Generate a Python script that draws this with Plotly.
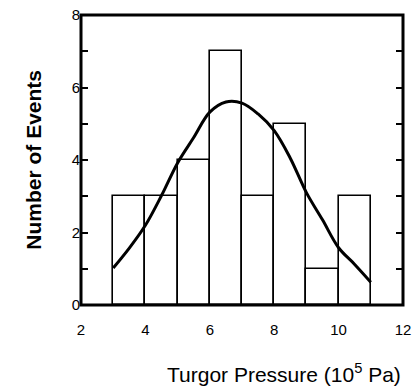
import plotly.graph_objects as go

# Histogram bins (left edge of each 1-unit bin) and counts
bin_left = [3, 4, 5, 6, 7, 8, 9, 10]
counts = [3, 3, 4, 7, 3, 5, 1, 3]
bin_width = 1

# Fitted distribution curve
curve_x = [3, 3.5, 4, 4.5, 5, 5.5, 6, 6.5, 7, 7.5, 8, 8.5, 9, 9.5, 10, 10.5, 11]
curve_y = [1.02, 1.57, 2.2, 3.02, 3.92, 4.62, 5.32, 5.6, 5.57, 5.27, 4.81, 4.05,
           3.1, 2.35, 1.58, 1.12, 0.63]

x_ticks = [2, 4, 6, 8, 10, 12]
y_ticks = [0, 2, 4, 6, 8]
x_range = [2, 12]
y_range = [0, 8]

centers = [b + bin_width / 2 for b in bin_left]

fig = go.Figure()
fig.add_trace(go.Bar(
    x=centers, y=counts, width=[bin_width] * len(counts),
    marker=dict(color="white", line=dict(color="black", width=1.6)),
    showlegend=False, hoverinfo="skip",
))
fig.add_trace(go.Scatter(
    x=curve_x, y=curve_y, mode="lines", line=dict(color="black", width=3, shape="spline"),
    showlegend=False,
))

font_family = "Liberation Sans, Arial, sans-serif"
clear = "rgba(0,0,0,0)"
y_all = list(range(y_range[0], y_range[1] + 1))

fig.update_layout(
    width=417, height=386,
    margin=dict(l=81, r=14, t=15, b=81),
    paper_bgcolor="white", plot_bgcolor="white",
    font=dict(family=font_family, color="black", size=14),
    bargap=0,
    xaxis=dict(
        range=x_range, tickvals=x_ticks, ticktext=[str(v) for v in x_ticks],
        automargin=False, showgrid=False, zeroline=False, showline=False,
        ticks="outside", ticklen=11, tickwidth=1, tickcolor=clear,
        tickfont=dict(size=15),
    ),
    yaxis=dict(
        range=y_range, tickvals=y_all,
        ticktext=[str(v) if v in y_ticks else " " for v in y_all],
        automargin=False, showgrid=False, zeroline=False, showline=False,
        mirror="ticks", ticks="inside", ticklen=7, tickwidth=2, tickcolor="black",
        tickfont=dict(size=15),
    ),
    shapes=[dict(
        type="rect", xref="paper", yref="paper", x0=0, x1=1, y0=0, y1=1,
        line=dict(color="black", width=3), layer="above",
    )],
    annotations=[
        dict(
            text="Turgor Pressure (10<sup>5</sup> Pa)",
            xref="paper", yref="paper", x=1.0, y=-0.234, xanchor="right", yanchor="middle",
            showarrow=False, font=dict(size=21, family=font_family),
        ),
        dict(
            text="<b>Number of Events</b>",
            xref="paper", yref="paper", x=-0.15, y=0.5, xanchor="center", yanchor="middle",
            textangle=-90, showarrow=False, font=dict(size=21, family=font_family),
        ),
    ],
)

fig.write_html("out.html")
